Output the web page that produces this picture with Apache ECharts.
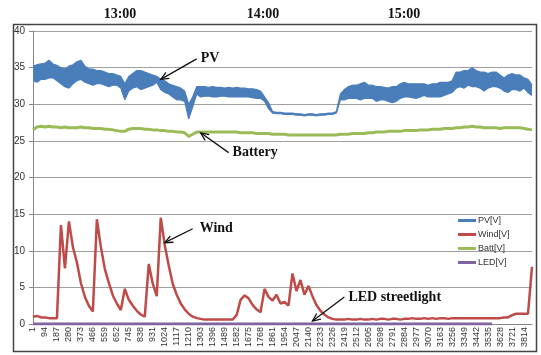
<!DOCTYPE html>
<html>
<head>
<meta charset="utf-8">
<script src="https://cdn.jsdelivr.net/npm/echarts@6/dist/echarts.min.js"></script>
<style>
  html, body { margin: 0; padding: 0; background: #fff; }
  #main { width: 541px; height: 355px; }
</style>
</head>
<body>
<div id="main"></div>
<script>
// sample numbers, one category every 31 samples, a label every 93
const samples = Array.from({ length: 126 }, (_, i) => 1 + 31 * i);

const pvHigh = [
  35.2, 35.4, 35.5, 35.6, 36.0, 35.5, 35.3, 35.0, 34.8, 35.2,
  35.4, 35.8, 36.0, 35.2, 34.8, 34.8, 34.6, 34.6, 34.4, 34.2,
  34.2, 34.0, 33.8, 32.8, 33.8, 34.2, 34.6, 34.6, 34.4, 34.2,
  34.0, 33.8, 33.4, 33.2, 32.8, 32.6, 32.4, 32.2, 31.8, 30.0,
  31.0, 32.4, 32.4, 32.4, 32.3, 32.4, 32.3, 32.3, 32.2, 32.3,
  32.2, 32.3, 32.2, 32.2, 32.1, 32.1, 32.0, 31.8, 31.0, 30.2,
  29.0, 28.9, 28.9, 28.8, 28.8, 28.8, 28.7, 28.7, 28.6, 28.7,
  28.7, 28.6, 28.7, 28.7, 28.8, 28.8, 29.0, 31.4, 32.0, 32.4,
  32.6, 32.6, 32.8, 33.0, 32.6, 32.6, 32.4, 32.4, 32.3, 32.2,
  32.4, 32.4, 32.8, 33.0, 32.8, 32.8, 32.8, 32.8, 32.8, 32.6,
  32.8, 32.8, 33.0, 33.0, 33.0, 33.2, 34.4, 34.4, 34.6, 34.6,
  35.0, 34.6, 34.4, 34.4, 34.2, 34.4, 34.4, 34.0, 33.6, 34.0,
  34.2, 34.0, 34.0, 33.6, 33.4, 32.6
];
const pvLow = [
  33.2, 33.0, 33.4, 33.4, 33.6, 33.6, 33.2, 32.8, 32.4, 32.2,
  32.8, 33.2, 33.4, 33.0, 32.8, 32.6, 32.8, 32.8, 32.6, 32.4,
  32.6, 32.6, 32.2, 30.6, 31.8, 32.2, 32.4, 32.0, 32.2, 32.4,
  32.6, 33.0, 32.0, 31.6, 31.4, 31.0, 30.6, 30.6, 30.4, 28.0,
  29.6, 31.4, 31.0, 31.1, 31.1, 31.0, 31.0, 31.1, 31.1, 31.0,
  31.0, 31.0, 31.0, 31.0, 31.0, 30.9, 30.8, 30.8, 30.4, 29.4,
  28.8, 28.7, 28.7, 28.6, 28.6, 28.6, 28.5, 28.5, 28.4, 28.5,
  28.5, 28.4, 28.5, 28.5, 28.6, 28.6, 28.8, 30.6, 30.6, 30.8,
  30.8, 30.8, 30.6, 30.8, 30.8, 30.8, 30.4, 30.6, 30.6, 30.4,
  30.2, 30.4, 30.8, 31.0, 31.0, 30.9, 30.8, 31.0, 31.2, 31.0,
  31.0, 31.0, 31.0, 31.2, 31.4, 31.6, 32.2, 32.4, 32.2, 32.6,
  32.4, 32.4, 32.2, 31.8, 32.2, 32.4, 32.4, 32.2, 31.8, 31.6,
  32.0, 32.0, 31.8, 32.2, 31.6, 31.2
];

const wind = [
  1.0, 1.1, 0.9, 0.9, 0.8, 0.8, 0.8, 13.5, 7.6, 14.0,
  10.5, 8.4, 5.6, 3.7, 2.5, 1.7, 14.3, 10.5, 7.5, 5.6,
  3.9, 2.8, 1.9, 4.8, 3.3, 2.5, 1.8, 1.3, 1.0, 8.2,
  5.5, 3.8, 14.5, 10.8, 8.0, 5.5, 4.0, 2.8, 2.0, 1.4,
  1.0, 0.8, 0.7, 0.6, 0.6, 0.6, 0.6, 0.6, 0.6, 0.6,
  0.6, 1.2, 3.3, 3.9, 3.5, 2.6, 2.0, 1.6, 4.8, 3.7,
  3.2, 4.0, 2.8, 3.0, 2.5, 6.9, 4.5, 6.0, 4.0, 5.2,
  3.8, 2.6, 1.8, 1.3, 0.9, 0.7, 0.6, 0.6, 0.6, 0.7,
  0.6, 0.6, 0.7, 0.6, 0.6, 0.7, 0.6, 0.7, 0.7, 0.6,
  0.7, 0.7, 0.6, 0.7, 0.7, 0.8, 0.7, 0.7, 0.8, 0.7,
  0.8, 0.7, 0.8, 0.8, 0.7, 0.8, 0.8, 0.8, 0.8, 0.8,
  0.8, 0.8, 0.8, 0.8, 0.8, 0.8, 0.8, 0.8, 0.9, 0.9,
  1.2, 1.4, 1.4, 1.4, 1.4, 7.8
];

const batt = [
  26.5, 26.9, 27.0, 26.9, 27.0, 26.9, 26.9, 26.8, 26.9, 26.8,
  26.8, 26.8, 26.9, 26.8, 26.8, 26.7, 26.7, 26.7, 26.6, 26.6,
  26.5, 26.4, 26.3, 26.3, 26.6, 26.7, 26.7, 26.7, 26.6, 26.6,
  26.5, 26.5, 26.4, 26.4, 26.3, 26.3, 26.2, 26.2, 26.1, 25.6,
  25.9, 26.2, 26.2, 26.2, 26.2, 26.2, 26.2, 26.2, 26.2, 26.2,
  26.2, 26.2, 26.1, 26.1, 26.1, 26.1, 26.0, 26.0, 26.0, 26.0,
  25.9, 25.9, 25.9, 25.9, 25.8, 25.8, 25.8, 25.8, 25.8, 25.8,
  25.8, 25.8, 25.8, 25.8, 25.8, 25.8, 25.8, 25.9, 25.9, 25.9,
  26.0, 26.0, 26.0, 26.0, 26.1, 26.1, 26.2, 26.2, 26.2, 26.3,
  26.3, 26.3, 26.3, 26.4, 26.4, 26.4, 26.4, 26.5, 26.5, 26.5,
  26.6, 26.6, 26.6, 26.7, 26.7, 26.7, 26.8, 26.8, 26.9, 26.9,
  27.0, 26.9, 26.9, 26.8, 26.8, 26.8, 26.8, 26.7, 26.8, 26.8,
  26.8, 26.8, 26.8, 26.7, 26.6, 26.5
];

const led = [
  0, 0, 0, 0, 0, 0, 0, 0, 0, 0,  0, 0, 0, 0, 0, 0, 0, 0, 0, 0,
  0, 0, 0, 0, 0, 0, 0, 0, 0, 0,  0, 0, 0, 0, 0, 0, 0, 0, 0, 0,
  0, 0, 0, 0, 0, 0, 0, 0, 0, 0,  0, 0, 0, 0, 0, 0, 0, 0, 0, 0,
  0, 0, 0, 0, 0, 0, 0, 0, 0, 0,  0, 0, 0, 0, 0, 0, 0, 0, 0, 0,
  0, 0, 0, 0, 0, 0, 0, 0, 0, 0,  0, 0, 0, 0, 0, 0, 0, 0, 0, 0,
  0, 0, 0, 0, 0, 0, 0, 0, 0, 0,  0, 0, 0, 0, 0, 0
];

const seriesNames = ['PV[V]', 'Wind[V]', 'Batt[V]', 'LED[V]'];
const seriesColors = ['#4A7EBB', '#BE4B48', '#9BBB59', '#7F64A0'];
const timeLabels = ['13:00', '14:00', '15:00'];

// callouts: arrow tail and head in [category index, value]
const notes = [
  { text: 'PV', tail: [41, 36.2], head: [32, 33.4], dx: 4 },
  { text: 'Battery', tail: [49, 23.4], head: [42, 26.1], dx: 4 },
  { text: 'Wind', tail: [40, 13.0], head: [33, 11.1], dx: 7 },
  { text: 'LED streetlight', tail: [78, 3.7], head: [70, 0.4], dx: 4 }
];

const sans = '"Liberation Sans", Arial, sans-serif';
const serif = '"Liberation Serif", "Times New Roman", serif';

// band thickness for the stacked fill
const pvSpan = pvHigh.map((h, i) => +(h - pvLow[i]).toFixed(2));

function plainLine(idx, data, width) {
  return {
    name: seriesNames[idx], type: 'line', data: data, showSymbol: false,
    lineStyle: { width: width, color: seriesColors[idx] },
    itemStyle: { color: seriesColors[idx] }
  };
}

const myChart = echarts.init(document.getElementById('main'));

const option = {
  animation: false,
  grid: { left: 33, right: 9, top: 31, bottom: 31, containLabel: false },
  legend: {
    data: seriesNames,
    orient: 'vertical',
    left: 458,
    top: 215,
    padding: 0,
    itemGap: 3,
    itemWidth: 18,
    itemHeight: 3,
    icon: 'rect',
    textStyle: { fontSize: 9, color: '#333', fontFamily: sans, lineHeight: 11, padding: [0, 0, 0, -3] }
  },
  xAxis: {
    type: 'category',
    data: samples,
    boundaryGap: false,
    axisLine: { lineStyle: { color: '#868686' } },
    axisTick: { show: false },
    splitLine: { show: false },
    axisLabel: { interval: 2, rotate: 90, fontSize: 9, color: '#333', margin: 3, fontFamily: sans }
  },
  yAxis: {
    type: 'value',
    min: 0,
    max: 40,
    interval: 5,
    axisLine: { show: true, lineStyle: { color: '#868686' } },
    axisTick: { show: true, length: 4, lineStyle: { color: '#868686' } },
    splitLine: { lineStyle: { color: '#a0a0a0' } },
    axisLabel: { fontSize: 10, color: '#333', margin: 8, fontFamily: sans }
  },
  series: [
    Object.assign(plainLine(0, pvLow, 1.2), { stack: 'pv' }),
    Object.assign(plainLine(0, pvSpan, 1.2), {
      stack: 'pv',
      areaStyle: { color: seriesColors[0], opacity: 1 }
    }),
    plainLine(1, wind, 2.5),
    plainLine(2, batt, 3),
    plainLine(3, led, 3)
  ]
};

myChart.setOption(option);

// border, time labels and callout arrows
const gfx = [
  { type: 'rect', shape: { x: 13.5, y: 24.5, width: 523, height: 327 }, style: { fill: null, stroke: '#444', lineWidth: 1.5 }, z: 0 }
];
const timeX = [120, 263, 404];
timeLabels.forEach((t, i) => {
  gfx.push({ type: 'text', x: timeX[i], y: 14, style: { text: t, font: 'bold 14px ' + serif, fill: '#111', align: 'center', verticalAlign: 'middle' } });
});
notes.forEach(n => {
  const a = myChart.convertToPixel({ gridIndex: 0 }, n.tail);
  const b = myChart.convertToPixel({ gridIndex: 0 }, n.head);
  const ang = Math.atan2(b[1] - a[1], b[0] - a[0]);
  const L = 8, W = 3.5;
  const bx = b[0] - L * Math.cos(ang), by = b[1] - L * Math.sin(ang);
  gfx.push({ type: 'line', shape: { x1: a[0], y1: a[1], x2: b[0], y2: b[1] }, style: { stroke: '#111', lineWidth: 1.3 }, z: 10 });
  gfx.push({
    type: 'polyline',
    shape: { points: [[bx + W * Math.sin(ang), by - W * Math.cos(ang)], b, [bx - W * Math.sin(ang), by + W * Math.cos(ang)]] },
    style: { stroke: '#111', lineWidth: 1.3, fill: null }, z: 10
  });
  gfx.push({ type: 'text', x: a[0] + n.dx, y: a[1], style: { text: n.text, font: 'bold 14px ' + serif, fill: '#111', align: 'left', verticalAlign: 'middle' }, z: 10 });
});
myChart.setOption({ graphic: gfx });

window.addEventListener('resize', function () {
  myChart.resize();
});
</script>
</body>
</html>
